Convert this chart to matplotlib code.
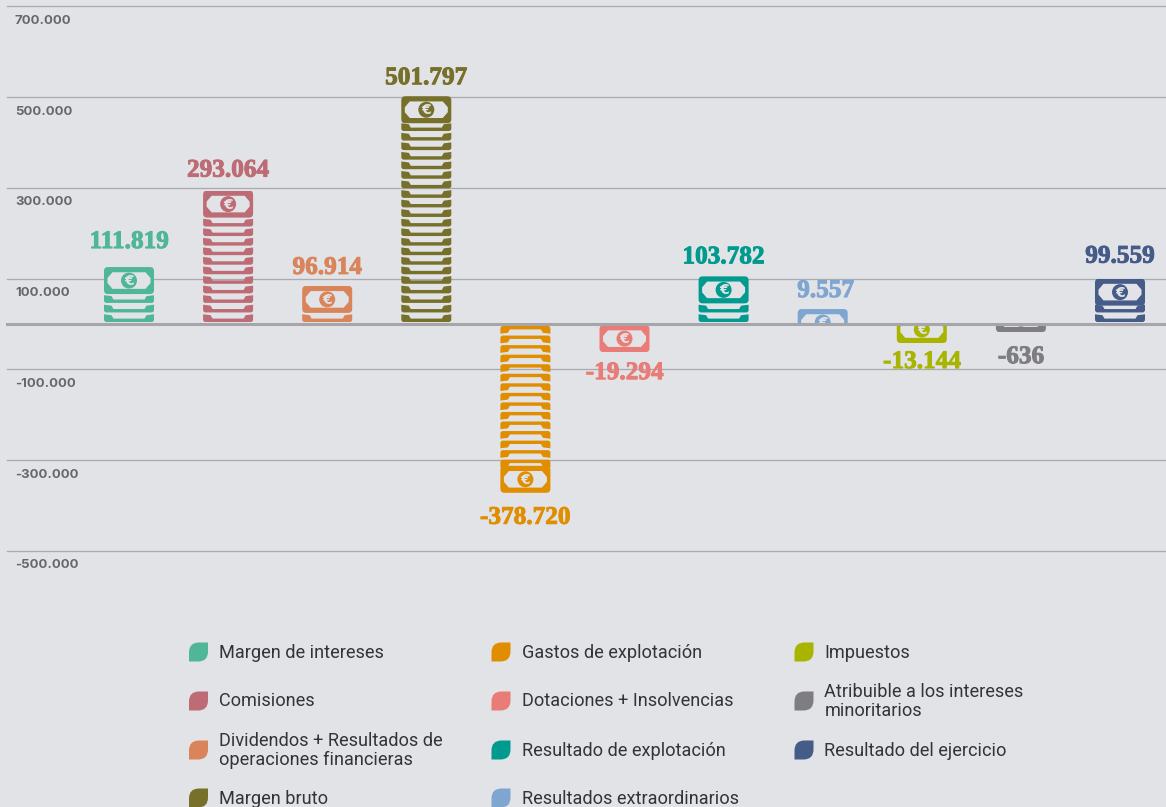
import matplotlib
matplotlib.use('Agg')
import matplotlib.pyplot as plt
import matplotlib.patheffects as pe
from matplotlib.patches import PathPatch, Rectangle, Circle, FancyBboxPatch
from matplotlib.path import Path
from matplotlib.transforms import Affine2D

# datos
categorias = ['Margen de intereses', 'Comisiones', 'Dividendos + Resultados de\noperaciones financieras',
              'Margen bruto', 'Gastos de explotación', 'Dotaciones + Insolvencias',
              'Resultado de explotación', 'Resultados extraordinarios', 'Impuestos',
              'Atribuible a los intereses\nminoritarios', 'Resultado del ejercicio']
valores = [111819, 293064, 96914, 501797, -378720, -19294, 103782, 9557, -13144, -636, 99559]
etiquetas = ['111.819', '293.064', '96.914', '501.797', '-378.720', '-19.294', '103.782',
             '9.557', '-13.144', '-636', '99.559']
# billetes finos debajo del billete principal, contados en la imagen
billetes = [3, 11, 1, 21, 15, 0, 2, 0, 0, 0, 2]
# altura visible de cada pila en la imagen (misma escala que los valores)
alturas = [125500, 294000, 84000, 502000, 372000, 62000, 105000, 33000, 42000, 18000, 100000]
colores = ['#4fb698', '#bd6b74', '#d9845a', '#76702a', '#e08e00', '#e97c76',
           '#009a8e', '#7fa5d1', '#a8b400', '#7d7d82', '#455c88']
ticks = [700000, 500000, 300000, 100000, -100000, -300000, -500000]
tick_labels = ['700.000', '500.000', '300.000', '100.000', '-100.000', '-300.000', '-500.000']

FONDO = '#e2e3e7'
W, H = 1166, 807
ESC_Y = 200000 / 90.75   # valor por pixel
X0, PASO = 129, 99.1     # centro de la primera pila y separacion
Y0 = 324
# ajuste a mano de cada etiqueta en pixeles (x, y)
ajuste = [(0, 2), (0, -3), (0, -5), (0, -5), (0, 0), (0, 4), (0, -4), (3, -5), (0, 6), (0, 0), (0, -1)]

fig = plt.figure(figsize=(W / 100, H / 100), dpi=100, facecolor=FONDO)
ax = fig.add_axes([0, 0, 1, 1])
ax.set_xlim(-X0 / PASO, (W - X0) / PASO)
ax.set_ylim((Y0 - H) * ESC_Y, Y0 * ESC_Y)
ax.axis('off')

for t, lab in zip(ticks, tick_labels):
    ax.plot([ax.get_xlim()[0] + 7 / PASO, ax.get_xlim()[1]], [t, t], color='#aaabb0', lw=0.95, zorder=1)
    ax.annotate(lab, (ax.get_xlim()[0], t), xytext=(15, -14.5), textcoords='offset pixels',
                ha='left', va='center', fontsize=9.5, fontweight='bold', family='Inter', color='#66676b')


def billete_fino(signo):
    # banda con las esquinas levantadas, 50 x 7.7 px, apoyada en y=0
    s = signo
    v = [(-25, 6.5 * s), (-25, 2.5 * s), (-25, 0), (-22.5, 0), (22.5, 0), (25, 0), (25, 2.5 * s), (25, 7.7 * s),
         (17.5, 6.8 * s), (15.5, 3.4 * s), (-15.5, 3.4 * s), (-17.5, 6.8 * s), (-25, 7.7 * s), (-25, 6.5 * s)]
    c = [Path.MOVETO, Path.LINETO, Path.CURVE3, Path.CURVE3, Path.LINETO, Path.CURVE3, Path.CURVE3, Path.LINETO,
         Path.LINETO, Path.LINETO, Path.LINETO, Path.LINETO, Path.LINETO, Path.CLOSEPOLY]
    return Path(v, c)


def dibujar_pila(i, color, n, altura, signo):
    cx, by = ax.transData.transform((i, 0))
    clip = Rectangle((i - 0.4, 0), 0.8, altura * signo, transform=ax.transData)
    # billetes finos desde la base
    for k in range(n):
        y = by + signo * (2 + k * 9.55)
        tr = Affine2D().translate(cx, y)
        ax.add_patch(PathPatch(billete_fino(signo), fc=color, ec='none', transform=tr, zorder=3))
    # billete principal en el extremo
    cy = by + signo * (altura / ESC_Y - 13.5)
    tr = Affine2D().translate(cx, cy)
    caja = FancyBboxPatch((-21, -9.5), 42, 19, boxstyle='round,pad=4,rounding_size=4', fc=color, ec='none',
                          transform=tr, zorder=3)
    dentro = [(-16.5, 8.3), (16.5, 8.3), (21.5, 2.5), (21.5, -2.5), (16.5, -8.3), (-16.5, -8.3), (-21.5, -2.5),
              (-21.5, 2.5), (-16.5, 8.3)]
    hueco = PathPatch(Path(dentro, closed=True), fc=FONDO, ec='none', transform=tr, zorder=4)
    moneda = Circle((0, 0), 8, fc=color, ec='none', transform=tr, zorder=5)
    for a in (caja, hueco, moneda):
        ax.add_patch(a)
        a.set_clip_path(clip)
    euro = ax.text(cx, cy - 0.5, '€', transform=Affine2D(), ha='center', va='center', fontsize=10,
                   fontweight='bold', family='DejaVu Sans', color=FONDO, zorder=6)
    euro.set_clip_path(clip)


for i, (v, col, n, alt, lab, aj) in enumerate(zip(valores, colores, billetes, alturas, etiquetas, ajuste)):
    signo = 1 if v > 0 else -1
    dibujar_pila(i, col, n, alt, signo)
    ax.annotate(lab, (i, alt * signo), xytext=(aj[0], (12 if signo > 0 else -13) + aj[1]), textcoords='offset pixels',
                ha='center', va='bottom' if signo > 0 else 'top', fontsize=18.2, fontweight='bold',
                family='Liberation Serif', color=col, zorder=6,
                path_effects=[pe.withStroke(linewidth=0.7, foreground=col)])

# linea de cero por encima de las pilas
ax.plot([ax.get_xlim()[0] + 7 / PASO, ax.get_xlim()[1]], [0, 0], color='#a5a5aa', lw=2.2, zorder=7)

# leyenda
col_x = [198.5, 501, 804]
fila_y = [652, 701, 750, 798]
for k, (nom, col) in enumerate(zip(categorias, colores)):
    c, f = k // 4, k % 4
    px, py = col_x[c], fila_y[f]
    tr = Affine2D().translate(px, H - py)
    r = 9.5
    v = [(-r, r - 10), (-r, r), (-r + 10, r), (r, r), (r, -r + 10), (r, -r), (r - 10, -r), (-r, -r), (-r, r - 10)]
    cod = [Path.MOVETO, Path.CURVE3, Path.CURVE3, Path.LINETO, Path.LINETO, Path.CURVE3, Path.CURVE3, Path.LINETO,
           Path.CLOSEPOLY]
    ax.add_patch(PathPatch(Path(v, cod), fc=col, ec='none', transform=tr, zorder=3))
    ax.text((px + 20.5) / W, 1 - (py + 0.5) / H, nom, transform=fig.transFigure, ha='left', va='center', fontsize=13.05,
            family='Roboto', color='#333438', linespacing=1.12)

fig.savefig('out.png', dpi=100, facecolor=FONDO)
